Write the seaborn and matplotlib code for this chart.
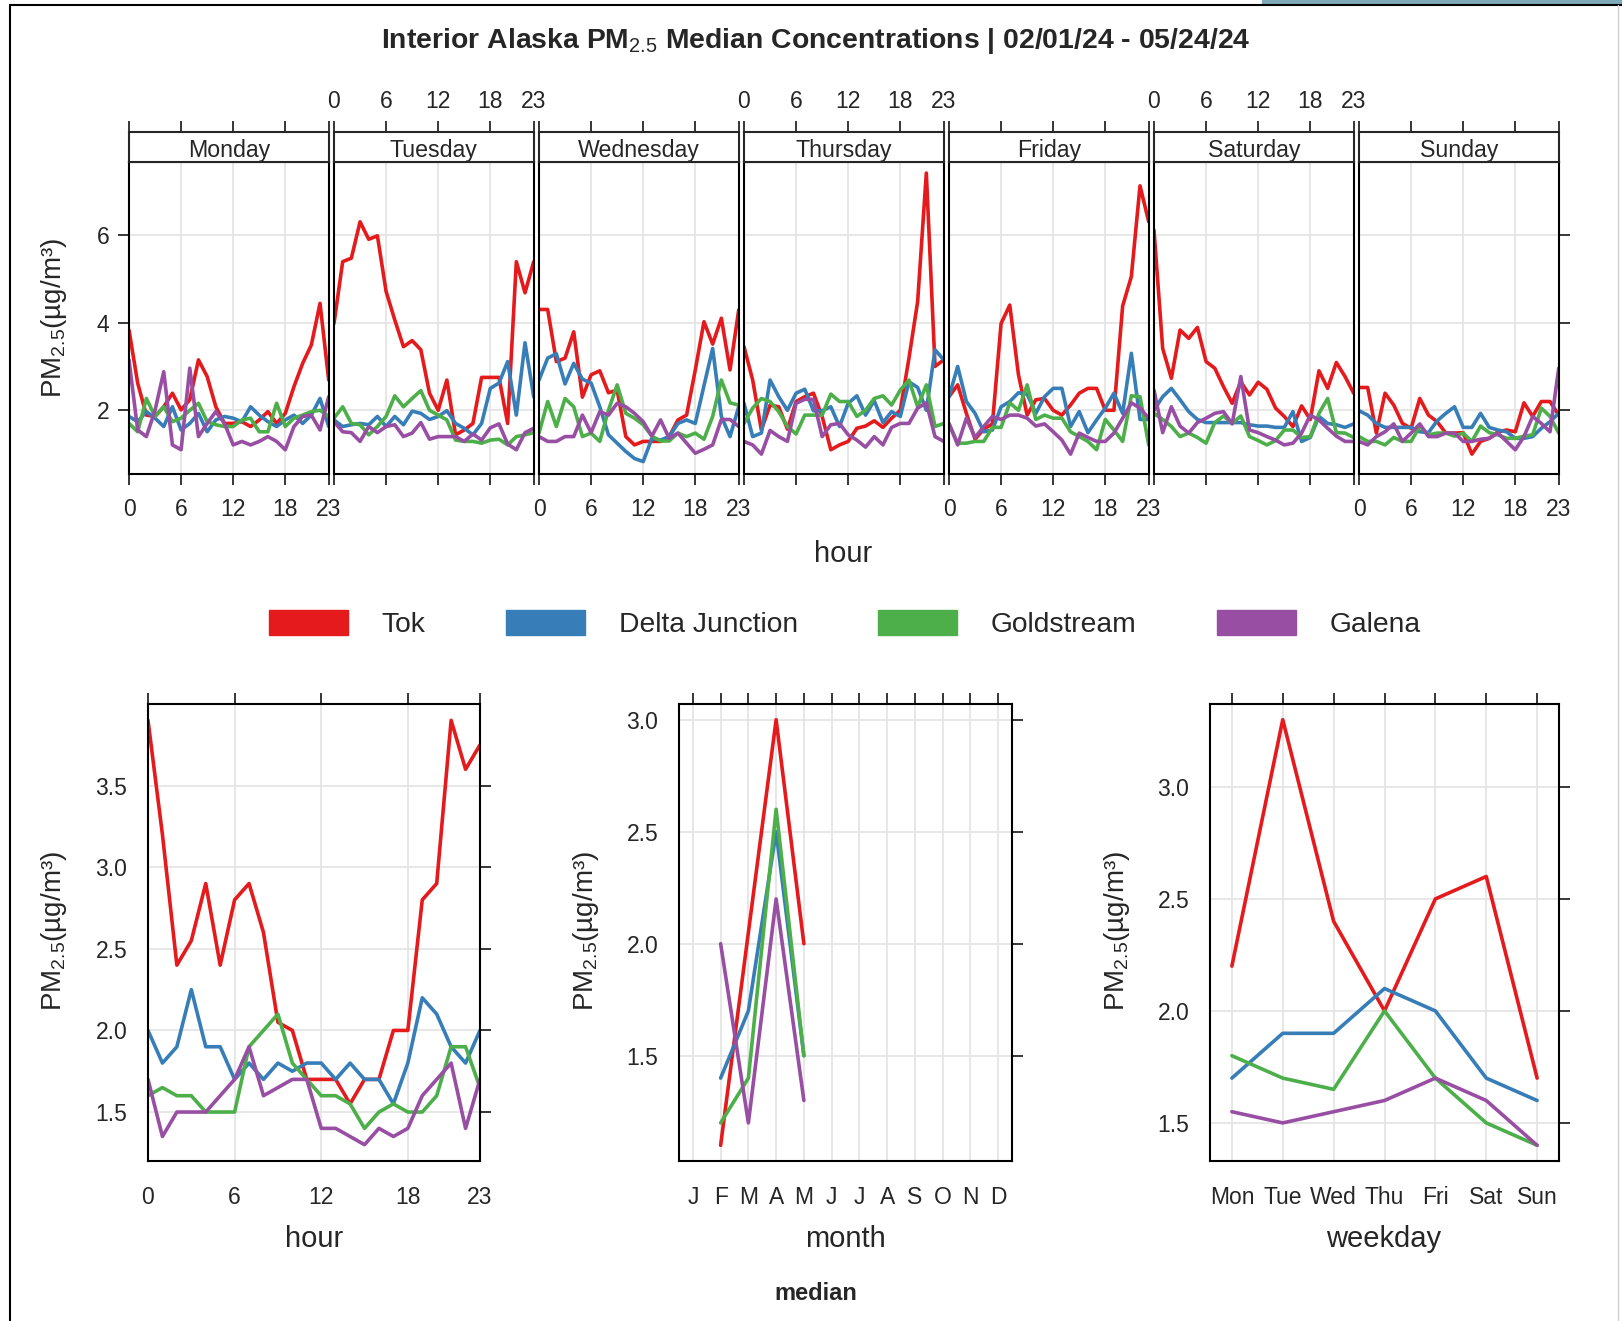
import numpy as np
import pandas as pd
import matplotlib
matplotlib.use('Agg')
import matplotlib.pyplot as plt
from matplotlib.patches import Patch, Rectangle
from matplotlib.lines import Line2D
import seaborn as sns

# Sites and colours (RColorBrewer Set1)
sites = ['Tok', 'Delta Junction', 'Goldstream', 'Galena']
colors = sns.color_palette('Set1', 4)
days = ['Monday', 'Tuesday', 'Wednesday', 'Thursday', 'Friday', 'Saturday', 'Sunday']
hours = list(range(24))

# Hourly medians for each weekday (Mon..Sun), one list per day
tok_day_hour = [
    [3.83, 2.62, 1.89, 1.86, 2.08, 2.39, 2.01, 2.24, 3.15, 2.77, 2.08, 1.70, 1.70, 1.74, 1.63, 1.78, 1.97, 1.70, 1.93, 2.54, 3.07, 3.49, 4.44, 2.69],
    [3.98, 5.39, 5.47, 6.30, 5.90, 5.98, 4.71, 4.06, 3.45, 3.59, 3.38, 2.39, 2.00, 2.69, 1.44, 1.55, 1.70, 2.75, 2.75, 2.75, 1.70, 5.39, 4.68, 5.39],
    [4.30, 4.30, 3.11, 3.19, 3.79, 2.30, 2.81, 2.90, 2.40, 2.46, 1.40, 1.21, 1.29, 1.29, 1.29, 1.40, 1.78, 1.89, 2.92, 4.02, 3.51, 4.10, 2.92, 4.29],
    [3.45, 2.69, 1.55, 2.12, 2.08, 1.57, 2.20, 2.31, 2.39, 1.86, 1.10, 1.21, 1.29, 1.59, 1.64, 1.76, 1.61, 1.82, 2.00, 3.19, 4.48, 7.41, 3.00, 3.15],
    [2.31, 2.58, 1.93, 1.34, 1.57, 1.69, 3.98, 4.40, 2.81, 1.89, 2.24, 2.27, 2.00, 1.89, 2.12, 2.39, 2.50, 2.50, 2.00, 2.00, 4.38, 5.05, 7.12, 6.30],
    [6.11, 3.41, 2.73, 3.83, 3.64, 3.89, 3.11, 2.96, 2.54, 2.16, 2.65, 2.35, 2.64, 2.48, 2.05, 1.86, 1.63, 2.10, 1.79, 2.90, 2.50, 3.09, 2.77, 2.39],
    [2.52, 2.52, 1.48, 2.39, 2.12, 1.70, 1.59, 2.27, 1.89, 1.74, 1.48, 1.48, 1.49, 1.00, 1.29, 1.36, 1.51, 1.55, 1.51, 2.17, 1.86, 2.20, 2.20, 1.89],
]
delta_day_hour = [
    [1.86, 1.74, 1.97, 1.82, 1.63, 2.08, 1.55, 1.70, 1.93, 1.51, 1.78, 1.86, 1.82, 1.74, 2.08, 1.89, 1.74, 1.63, 1.78, 1.89, 1.70, 1.89, 2.27, 1.63],
    [1.78, 1.63, 1.67, 1.70, 1.67, 1.86, 1.63, 1.86, 1.67, 1.98, 1.93, 1.79, 1.86, 1.99, 1.70, 1.59, 1.44, 1.70, 2.50, 2.62, 3.11, 1.89, 3.54, 2.31],
    [2.69, 3.19, 3.29, 2.60, 3.07, 2.71, 2.62, 2.08, 1.44, 1.25, 1.06, 0.90, 0.83, 1.36, 1.32, 1.40, 1.70, 1.78, 1.70, 2.56, 3.41, 1.86, 1.40, 2.08],
    [2.16, 1.40, 1.48, 2.69, 2.31, 2.00, 2.39, 2.48, 1.99, 1.99, 2.08, 1.63, 2.16, 2.33, 1.89, 2.22, 1.72, 1.97, 1.86, 2.65, 2.52, 2.00, 3.38, 3.15],
    [2.31, 3.00, 2.20, 1.93, 1.51, 1.55, 2.08, 2.20, 2.40, 2.37, 1.93, 2.31, 2.50, 2.50, 1.63, 1.97, 1.49, 1.78, 2.05, 2.39, 1.93, 3.30, 1.79, 1.79],
    [2.00, 2.31, 2.50, 2.24, 1.97, 1.79, 1.72, 1.72, 1.72, 1.72, 1.72, 1.67, 1.64, 1.64, 1.61, 1.61, 1.97, 1.29, 1.38, 1.86, 1.70, 1.67, 1.61, 1.69],
    [1.99, 1.89, 1.70, 1.61, 1.61, 1.61, 1.61, 1.51, 1.49, 1.76, 1.93, 2.08, 1.61, 1.61, 1.93, 1.61, 1.55, 1.51, 1.36, 1.36, 1.40, 1.59, 1.74, 1.93],
]
gold_day_hour = [
    [1.70, 1.51, 2.27, 1.86, 2.08, 1.74, 1.82, 2.00, 2.16, 1.74, 1.67, 1.63, 1.63, 1.78, 1.82, 1.51, 1.51, 2.16, 1.63, 1.82, 1.89, 1.97, 2.00, 1.86],
    [1.82, 2.08, 1.70, 1.67, 1.44, 1.63, 1.86, 2.33, 2.08, 2.27, 2.45, 2.00, 1.89, 1.78, 1.32, 1.29, 1.29, 1.25, 1.32, 1.34, 1.21, 1.40, 1.44, 1.49],
    [1.48, 2.20, 1.63, 2.27, 2.08, 1.40, 1.48, 1.29, 2.00, 2.58, 1.93, 1.82, 1.67, 1.41, 1.30, 1.30, 1.48, 1.40, 1.48, 1.34, 1.86, 2.69, 2.17, 2.12],
    [1.70, 2.05, 2.27, 2.20, 1.97, 1.63, 1.46, 1.89, 1.89, 1.89, 2.37, 2.20, 2.20, 1.86, 2.00, 2.27, 2.33, 2.12, 2.46, 2.69, 2.08, 2.58, 1.63, 1.70],
    [1.69, 1.25, 1.25, 1.29, 1.29, 1.61, 1.61, 2.17, 2.00, 2.58, 1.79, 1.89, 1.82, 1.82, 1.51, 1.40, 1.29, 1.10, 1.79, 1.55, 1.29, 2.33, 2.31, 1.21],
    [1.93, 1.79, 1.63, 1.40, 1.48, 1.38, 1.25, 1.72, 1.87, 1.70, 1.87, 1.40, 1.31, 1.21, 1.31, 1.55, 1.55, 1.38, 1.40, 1.93, 2.27, 1.49, 1.48, 1.38],
    [1.40, 1.29, 1.29, 1.21, 1.38, 1.29, 1.29, 1.63, 1.44, 1.48, 1.48, 1.41, 1.48, 1.29, 1.64, 1.49, 1.44, 1.36, 1.36, 1.41, 1.44, 2.05, 1.86, 1.48],
]
galena_day_hour = [
    [3.15, 1.55, 1.40, 2.00, 2.88, 1.21, 1.10, 2.96, 1.40, 1.70, 1.97, 1.70, 1.21, 1.29, 1.21, 1.29, 1.40, 1.29, 1.10, 1.63, 1.86, 1.89, 1.55, 2.31],
    [1.74, 1.51, 1.49, 1.29, 1.63, 1.49, 1.63, 1.67, 1.40, 1.48, 1.72, 1.34, 1.40, 1.40, 1.40, 1.29, 1.46, 1.32, 1.60, 1.69, 1.23, 1.10, 1.49, 1.59],
    [1.40, 1.29, 1.29, 1.40, 1.40, 1.89, 1.49, 1.97, 1.89, 2.16, 2.08, 1.93, 1.74, 1.41, 1.78, 1.36, 1.48, 1.25, 1.02, 1.11, 1.21, 1.79, 1.79, 1.63],
    [1.29, 1.21, 1.00, 1.54, 1.40, 1.29, 2.16, 2.25, 2.25, 1.40, 1.67, 1.70, 1.44, 1.32, 1.16, 1.40, 1.21, 1.61, 1.70, 1.70, 2.05, 2.17, 1.40, 1.29],
    [1.70, 1.21, 1.82, 1.38, 1.63, 1.86, 1.79, 1.89, 1.89, 1.82, 1.64, 1.69, 1.51, 1.32, 1.00, 1.48, 1.38, 1.29, 1.29, 1.48, 1.82, 2.17, 2.05, 1.82],
    [2.46, 1.49, 2.08, 1.64, 1.48, 1.72, 1.82, 1.93, 1.97, 1.69, 2.77, 1.55, 1.49, 1.40, 1.32, 1.21, 1.25, 1.48, 1.89, 1.78, 1.59, 1.41, 1.29, 1.29],
    [1.29, 1.21, 1.40, 1.51, 1.69, 1.29, 1.48, 1.69, 1.40, 1.40, 1.48, 1.48, 1.29, 1.29, 1.34, 1.36, 1.48, 1.29, 1.10, 1.40, 1.86, 1.70, 1.51, 2.96],
]

# Overall hourly medians
tok_hour = [3.9, 3.2, 2.4, 2.55, 2.9, 2.4, 2.8, 2.9, 2.6, 2.05, 2.0, 1.7, 1.7, 1.7, 1.55, 1.7, 1.7, 2.0, 2.0, 2.8, 2.9, 3.9, 3.6, 3.75]
delta_hour = [2.0, 1.8, 1.9, 2.25, 1.9, 1.9, 1.7, 1.8, 1.7, 1.8, 1.75, 1.8, 1.8, 1.7, 1.8, 1.7, 1.7, 1.55, 1.8, 2.2, 2.1, 1.9, 1.8, 2.0]
gold_hour = [1.6, 1.65, 1.6, 1.6, 1.5, 1.5, 1.5, 1.9, 2.0, 2.1, 1.8, 1.7, 1.6, 1.6, 1.55, 1.4, 1.5, 1.55, 1.5, 1.5, 1.6, 1.9, 1.9, 1.65]
galena_hour = [1.7, 1.35, 1.5, 1.5, 1.5, 1.6, 1.7, 1.9, 1.6, 1.65, 1.7, 1.7, 1.4, 1.4, 1.35, 1.3, 1.4, 1.35, 1.4, 1.6, 1.7, 1.8, 1.4, 1.7]

# Monthly medians (Feb..May)
months_num = [2, 3, 4, 5]
month_labels = ['J', 'F', 'M', 'A', 'M', 'J', 'J', 'A', 'S', 'O', 'N', 'D']
tok_month = [1.1, 2.05, 3.0, 2.0]
delta_month = [1.4, 1.7, 2.5, 1.5]
gold_month = [1.2, 1.4, 2.6, 1.5]
galena_month = [2.0, 1.2, 2.2, 1.3]

# Weekday medians
weekday_labels = ['Mon', 'Tue', 'Wed', 'Thu', 'Fri', 'Sat', 'Sun']
tok_wday = [2.2, 3.3, 2.4, 2.0, 2.5, 2.6, 1.7]
delta_wday = [1.7, 1.9, 1.9, 2.1, 2.0, 1.7, 1.6]
gold_wday = [1.8, 1.7, 1.65, 2.0, 1.7, 1.5, 1.4]
galena_wday = [1.55, 1.5, 1.55, 1.6, 1.7, 1.6, 1.4]

# Long-form tables
day_hour_sets = [tok_day_hour, delta_day_hour, gold_day_hour, galena_day_hour]
rows = []
for site, grid in zip(sites, day_hour_sets):
    for d, day in enumerate(days):
        for h in hours:
            rows.append((day, h, site, grid[d][h]))
df_dayhour = pd.DataFrame(rows, columns=['day', 'hour', 'site', 'pm'])

def long_df(xvals, series, xname):
    out = []
    for site, vals in zip(sites, series):
        for x, v in zip(xvals, vals):
            out.append((x, site, v))
    return pd.DataFrame(out, columns=[xname, 'site', 'pm'])

df_hour = long_df(hours, [tok_hour, delta_hour, gold_hour, galena_hour], 'hour')
df_month = long_df(months_num, [tok_month, delta_month, gold_month, galena_month], 'month')
df_wday = long_df(range(1, 8), [tok_wday, delta_wday, gold_wday, galena_wday], 'weekday')

# Style
sns.set_style('white')
plt.rcParams['font.family'] = ['Liberation Sans', 'DejaVu Sans']
plt.rcParams['mathtext.fontset'] = 'custom'
plt.rcParams['mathtext.rm'] = 'Liberation Sans'
plt.rcParams['mathtext.it'] = 'Liberation Sans:italic'
plt.rcParams['mathtext.bf'] = 'Liberation Sans:bold'

W, H = 1622, 1321
fig = plt.figure(figsize=(W / 100, H / 100), dpi=100)

def rect(l, t, r, b):
    return [l / W, 1 - b / H, (r - l) / W, (b - t) / H]

grid_col = '#E3E3E3'
lw = 2.6
tick_fs = 16.5
ylab = r'PM$_{2.5}$(µg/m³)'

def style_axes(ax):
    for s in ax.spines.values():
        s.set_linewidth(1.5)
        s.set_color('black')
    ax.set_axisbelow(True)
    ax.grid(True, color=grid_col, linewidth=1.2)
    ax.set_xlabel('')
    ax.set_ylabel('')

# Top: weekday x hour panels
for i, day in enumerate(days):
    left = 129 + 205 * i
    ax = fig.add_axes(rect(left, 161.7, left + 199.7, 474.3))
    sns.lineplot(data=df_dayhour[df_dayhour['day'] == day], x='hour', y='pm', hue='site',
                 hue_order=sites, palette=colors, linewidth=lw, legend=False, ax=ax)
    ax.set_xlim(0, 23)
    ax.set_ylim(0.54, 7.67)
    ax.set_xticks([0, 6, 12, 18, 23])
    ax.set_yticks([2, 4, 6])
    ax.set_yticklabels(['2', '4', '6'])
    style_axes(ax)
    ax.tick_params(axis='x', direction='out', length=8, width=1.3, bottom=True, top=False,
                   labelbottom=(i % 2 == 0), labelsize=tick_fs, pad=9)
    ax.tick_params(axis='y', direction='out', length=8, width=1.3, left=(i == 0), right=(i == 6),
                   labelleft=(i == 0), labelright=False, labelsize=tick_fs, pad=6)

    strip = fig.add_axes(rect(left, 132, left + 199.7, 161.7))
    strip.set_xlim(0, 23)
    strip.set_ylim(0, 1)
    strip.set_yticks([])
    strip.set_xticks([0, 6, 12, 18, 23])
    strip.xaxis.set_ticks_position('top')
    strip.tick_params(axis='x', direction='out', length=8, width=1.3, top=True, bottom=False,
                      labeltop=(i % 2 == 1), labelbottom=False, labelsize=tick_fs, pad=6)
    for s in strip.spines.values():
        s.set_linewidth(1.5)
    strip.text(11.5, 0.38, day, ha='center', va='center', fontsize=16.7)

fig.text(54 / W, 1 - 318 / H, ylab, rotation=90, ha='center', va='center', fontsize=20)
fig.text(843 / W, 1 - 554 / H, 'hour', ha='center', va='center', fontsize=21)

# Legend
handles = [Patch(facecolor=c, edgecolor=c) for c in colors]
fig.legend(handles, sites, loc='center', bbox_to_anchor=(845 / W, 1 - 624 / H), ncol=4,
           frameon=False, fontsize=20.3, handlelength=2.8, handleheight=1.0,
           handletextpad=1.2, columnspacing=2.85)

# Bottom: hour, month, weekday
def bottom_axes(ax):
    style_axes(ax)
    ax.tick_params(direction='out', length=8, width=1.3, top=True, right=True,
                   labeltop=False, labelright=False, labelsize=tick_fs, pad=7)
    ax.tick_params(axis='x', pad=10)

ax_h = fig.add_axes(rect(148, 704, 480, 1161))
sns.lineplot(data=df_hour, x='hour', y='pm', hue='site', hue_order=sites, palette=colors,
             linewidth=lw, legend=False, ax=ax_h)
ax_h.set_xlim(0, 23)
ax_h.set_ylim(1.2, 4.0)
ax_h.set_xticks([0, 6, 12, 18, 23])
ax_h.set_yticks([1.5, 2.0, 2.5, 3.0, 3.5])
ax_h.set_yticklabels(['1.5', '2.0', '2.5', '3.0', '3.5'])
bottom_axes(ax_h)

ax_m = fig.add_axes(rect(679, 704, 1012, 1161))
sns.lineplot(data=df_month, x='month', y='pm', hue='site', hue_order=sites, palette=colors,
             linewidth=lw, legend=False, ax=ax_m)
ax_m.set_xlim(0.5, 12.5)
ax_m.set_ylim(1.03, 3.07)
ax_m.set_xticks(range(1, 13))
ax_m.set_xticklabels(month_labels)
ax_m.set_yticks([1.5, 2.0, 2.5, 3.0])
ax_m.set_yticklabels(['1.5', '2.0', '2.5', '3.0'])
bottom_axes(ax_m)

ax_w = fig.add_axes(rect(1210, 704, 1559, 1161))
sns.lineplot(data=df_wday, x='weekday', y='pm', hue='site', hue_order=sites, palette=colors,
             linewidth=lw, legend=False, ax=ax_w)
ax_w.set_xlim(0.57, 7.43)
ax_w.set_ylim(1.33, 3.37)
ax_w.set_xticks(range(1, 8))
ax_w.set_xticklabels(weekday_labels)
ax_w.set_yticks([1.5, 2.0, 2.5, 3.0])
ax_w.set_yticklabels(['1.5', '2.0', '2.5', '3.0'])
bottom_axes(ax_w)

for x, lab in [(314, 'hour'), (845, 'month'), (1384, 'weekday')]:
    fig.text(x / W, 1 - 1239 / H, lab, ha='center', va='center', fontsize=21)
for x in [54, 586, 1117]:
    fig.text(x / W, 1 - 931 / H, ylab, rotation=90, ha='center', va='center', fontsize=20)

fig.text(816 / W, 1 - 1293 / H, 'median', ha='center', va='center', fontsize=17, fontweight='bold')
fig.text(816 / W, 1 - 41 / H,
         r'Interior Alaska PM$_{2.5}$ Median Concentrations | 02/01/24 - 05/24/24',
         ha='center', va='center', fontsize=20.4, fontweight='bold')

# Outer frame of the screenshot
fig.add_artist(Line2D([10 / W, 10 / W], [0, 1 - 5 / H], color='black', lw=1.5, transform=fig.transFigure))
fig.add_artist(Line2D([10 / W, 1], [1 - 5 / H, 1 - 5 / H], color='black', lw=1.5, transform=fig.transFigure))
fig.add_artist(Line2D([1618 / W, 1618 / W], [0, 1 - 5 / H], color='#D0D0D0', lw=1.0, transform=fig.transFigure))
fig.add_artist(Rectangle((1262 / W, 1 - 4 / H), (W - 1262) / W, 4 / H, color='#7EA9B8',
                         transform=fig.transFigure))

fig.savefig('out.png', dpi=100)
